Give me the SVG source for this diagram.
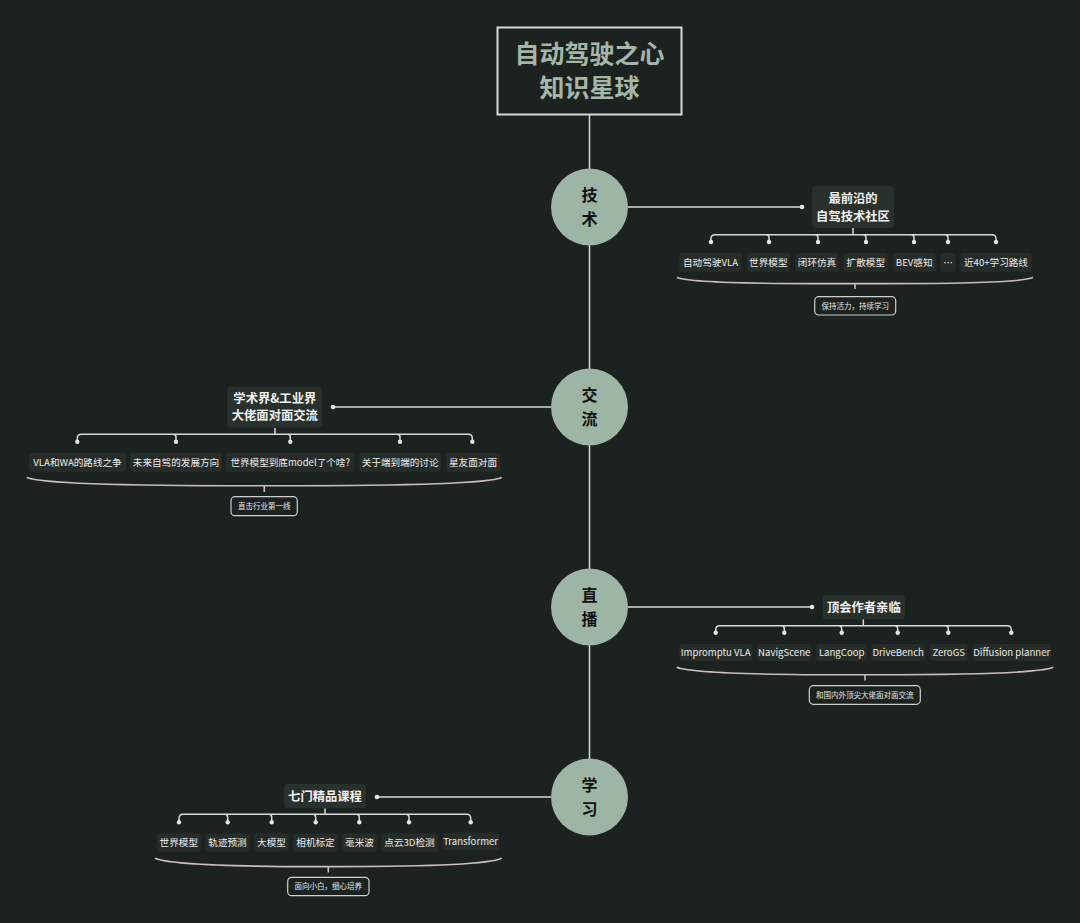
<svg xmlns="http://www.w3.org/2000/svg" width="1080" height="923" viewBox="0 0 1080 923">
<style>
.bg{fill:#1c221f}
.ln{fill:none;stroke:#d9d9d9;stroke-width:1.5}
.br{fill:none;stroke:#c9bdbd;stroke-width:1.6}
.dot{fill:#e6e6e6}
.circ{fill:#9db5a4}
.ct{font-family:"Noto Sans CJK SC",sans-serif;font-size:16px;font-weight:bold;fill:#111;text-anchor:middle}
.nb{fill:#29312c}
.nt{font-family:"Noto Sans CJK SC",sans-serif;font-size:12.3px;font-weight:bold;fill:#f2f2f2;text-anchor:middle}
.cb{fill:#262d29}
.cht{font-family:"Noto Sans CJK SC",sans-serif;font-size:9.6px;fill:#ececec;text-anchor:middle}
.sb{fill:#1c221f;stroke:#cfcfcf;stroke-width:1.2}
.st{font-family:"Noto Sans CJK SC",sans-serif;font-size:7.5px;fill:#e8e8e8;text-anchor:middle}
.tt{font-family:"Noto Sans CJK SC",sans-serif;font-size:25px;font-weight:bold;fill:#a3b6a7;text-anchor:middle}
</style>
<rect class="bg" x="0" y="0" width="1080" height="923"/>

<g id="connectors">
  <line class="ln" x1="589.5" y1="115" x2="589.5" y2="797"/>
  <line class="ln" x1="628" y1="207" x2="802" y2="207"/>
  <line class="ln" x1="551" y1="407" x2="333" y2="407"/>
  <line class="ln" x1="628" y1="607" x2="812" y2="607"/>
  <line class="ln" x1="551" y1="797" x2="377" y2="797"/>
  <circle class="dot" cx="802" cy="207" r="2.3"/>
  <circle class="dot" cx="333" cy="407" r="2.3"/>
  <circle class="dot" cx="812" cy="607" r="2.3"/>
  <circle class="dot" cx="377" cy="797" r="2.3"/>

  <path class="ln" d="M853,228 L853,234.7 M711,242 L711,238.7 Q711,234.7 715,234.7 L992,234.7 Q996,234.7 996,238.7 L996,242 M766,234.7 Q769,234.7 769,237.7 L769,242 M815,234.7 Q818,234.7 818,237.7 L818,242 M863,234.7 Q866,234.7 866,237.7 L866,242 M911,234.7 Q914,234.7 914,237.7 L914,242 M945,234.7 Q948,234.7 948,237.7 L948,242"/>
  <g class="dot"><circle cx="711" cy="242" r="2.2"/><circle cx="769" cy="242" r="2.2"/><circle cx="818" cy="242" r="2.2"/><circle cx="866" cy="242" r="2.2"/><circle cx="914" cy="242" r="2.2"/><circle cx="948" cy="242" r="2.2"/><circle cx="996" cy="242" r="2.2"/></g>
  <path class="br" d="M677,277.5 C690,283 760,284 855,283.5 C950,284 1020,283 1033,277.5 M855,283.5 L855,289"/>

  <path class="ln" d="M275,428 L275,434.3 M77.3,441.7 L77.3,438.3 Q77.3,434.3 81.3,434.3 L468.3,434.3 Q472.3,434.3 472.3,438.3 L472.3,441.7 M173,434.3 Q176,434.3 176,437.3 L176,441.7 M287.3,434.3 Q290.3,434.3 290.3,437.3 L290.3,441.7 M397,434.3 Q400,434.3 400,437.3 L400,441.7"/>
  <g class="dot"><circle cx="77.3" cy="441.7" r="2.2"/><circle cx="176" cy="441.7" r="2.2"/><circle cx="290.3" cy="441.7" r="2.2"/><circle cx="400" cy="441.7" r="2.2"/><circle cx="472.3" cy="441.7" r="2.2"/></g>
  <path class="br" d="M26.7,477.5 C40,483 120,486 264.3,485.8 C410,486 490,483 501.7,477.5 M264.3,485.8 L264.3,492"/>

  <path class="ln" d="M863.3,619.3 L863.3,625.7 M715.7,632.7 L715.7,629.7 Q715.7,625.7 719.7,625.7 L1007.3,625.7 Q1011.3,625.7 1011.3,629.7 L1011.3,632.7 M781.3,625.7 Q784.3,625.7 784.3,628.7 L784.3,632.7 M838.7,625.7 Q841.7,625.7 841.7,628.7 L841.7,632.7 M894.7,625.7 Q897.7,625.7 897.7,628.7 L897.7,632.7 M945.3,625.7 Q948.3,625.7 948.3,628.7 L948.3,632.7"/>
  <g class="dot"><circle cx="715.7" cy="632.7" r="2.2"/><circle cx="784.3" cy="632.7" r="2.2"/><circle cx="841.7" cy="632.7" r="2.2"/><circle cx="897.7" cy="632.7" r="2.2"/><circle cx="948.3" cy="632.7" r="2.2"/><circle cx="1011.3" cy="632.7" r="2.2"/></g>
  <path class="br" d="M676.7,667.3 C690,673 760,675 865,674.8 C970,675 1040,673 1053.3,667.3 M865,674.8 L865,680.5"/>

  <path class="ln" d="M325,808.3 L325,814.3 M179,822.3 L179,818.3 Q179,814.3 183,814.3 L466.7,814.3 Q470.7,814.3 470.7,818.3 L470.7,822.3 M224.7,814.3 Q227.7,814.3 227.7,817.3 L227.7,822.3 M268.7,814.3 Q271.7,814.3 271.7,817.3 L271.7,822.3 M312.7,814.3 Q315.7,814.3 315.7,817.3 L315.7,822.3 M356.3,814.3 Q359.3,814.3 359.3,817.3 L359.3,822.3 M406,814.3 Q409,814.3 409,817.3 L409,822.3"/>
  <g class="dot"><circle cx="179" cy="822.3" r="2.2"/><circle cx="227.7" cy="822.3" r="2.2"/><circle cx="271.7" cy="822.3" r="2.2"/><circle cx="315.7" cy="822.3" r="2.2"/><circle cx="359.3" cy="822.3" r="2.2"/><circle cx="409" cy="822.3" r="2.2"/><circle cx="470.7" cy="822.3" r="2.2"/></g>
  <path class="br" d="M155,858.3 C168,864 230,866.8 328.3,866.6 C430,866.8 490,864 501.7,858.3 M328.3,866.6 L328.3,872.5"/>
</g>

<g id="title">
  <rect x="497.5" y="27.5" width="184" height="87" fill="#1c221f" stroke="#d8d8d8" stroke-width="2"/>
  <text class="tt" x="589.5" y="63">自动驾驶之心</text>
  <text class="tt" x="589.5" y="97">知识星球</text>
</g>

<g id="c-tech"><circle class="circ" cx="589.5" cy="207" r="38.5"/><text class="ct" x="589.5" y="201">技</text><text class="ct" x="589.5" y="225">术</text></g>
<g id="c-comm"><circle class="circ" cx="589.5" cy="407" r="38.5"/><text class="ct" x="589.5" y="401">交</text><text class="ct" x="589.5" y="425">流</text></g>
<g id="c-live"><circle class="circ" cx="589.5" cy="607" r="38.5"/><text class="ct" x="589.5" y="601">直</text><text class="ct" x="589.5" y="625">播</text></g>
<g id="c-learn"><circle class="circ" cx="589.5" cy="797" r="38.5"/><text class="ct" x="589.5" y="791">学</text><text class="ct" x="589.5" y="815">习</text></g>

<g id="n-tech"><rect class="nb" x="812" y="186" width="82" height="42" rx="4"/><text class="nt" x="853" y="203">最前沿的</text><text class="nt" x="853" y="220.5">自驾技术社区</text></g>
<g id="tech-children">
  <g id="t1"><rect class="cb" x="679.3" y="252.7" width="62.4" height="19" rx="3"/><text class="cht" x="710.5" y="265.5">自动驾驶VLA</text></g>
  <g id="t2"><rect class="cb" x="746.7" y="252.7" width="43.3" height="19" rx="3"/><text class="cht" x="768.3" y="265.5">世界模型</text></g>
  <g id="t3"><rect class="cb" x="795.3" y="252.7" width="43.4" height="19" rx="3"/><text class="cht" x="817" y="265.5">闭环仿真</text></g>
  <g id="t4"><rect class="cb" x="844" y="252.7" width="43.7" height="19" rx="3"/><text class="cht" x="865.8" y="265.5">扩散模型</text></g>
  <g id="t5"><rect class="cb" x="892.7" y="252.7" width="43" height="19" rx="3"/><text class="cht" x="914.2" y="265.5">BEV感知</text></g>
  <g id="t6"><rect class="cb" x="940.3" y="252.7" width="15.4" height="19" rx="3"/><text class="cht" x="948" y="265.5">…</text></g>
  <g id="t7"><rect class="cb" x="960.3" y="252.7" width="71.4" height="19" rx="3"/><text class="cht" x="996" y="265.5">近40+学习路线</text></g>
</g>
<g id="s-tech"><rect class="sb" x="814.7" y="296.7" width="81" height="18.3" rx="4"/><text class="st" x="855.2" y="308.6">保持活力，持续学习</text></g>

<g id="n-comm"><rect class="nb" x="227.3" y="386.7" width="95" height="41" rx="4"/><text class="nt" x="274.8" y="402.5">学术界&amp;工业界</text><text class="nt" x="274.8" y="420">大佬面对面交流</text></g>
<g id="comm-children">
  <g id="m1"><rect class="cb" x="29" y="452.7" width="97" height="19" rx="3"/><text class="cht" x="77.5" y="465.5">VLA和WA的路线之争</text></g>
  <g id="m2"><rect class="cb" x="130" y="452.7" width="92" height="19" rx="3"/><text class="cht" x="176" y="465.5">未来自驾的发展方向</text></g>
  <g id="m3"><rect class="cb" x="226" y="452.7" width="128.3" height="19" rx="3"/><text class="cht" x="290.2" y="465.5">世界模型到底model了个啥?</text></g>
  <g id="m4"><rect class="cb" x="359.3" y="452.7" width="81.7" height="19" rx="3"/><text class="cht" x="400.2" y="465.5">关于端到端的讨论</text></g>
  <g id="m5"><rect class="cb" x="446" y="452.7" width="54" height="19" rx="3"/><text class="cht" x="473" y="465.5">星友面对面</text></g>
</g>
<g id="s-comm"><rect class="sb" x="231" y="496.7" width="66.3" height="19" rx="4"/><text class="st" x="264.2" y="508.8">直击行业第一线</text></g>

<g id="n-live"><rect class="nb" x="822.7" y="595" width="82.3" height="24.3" rx="4"/><text class="nt" x="863.8" y="611.5">顶会作者亲临</text></g>
<g id="live-children">
  <g id="l1"><rect class="cb" x="679.3" y="644" width="72.7" height="16.7" rx="3"/><text class="cht" x="715.7" y="655.6">Impromptu VLA</text></g>
  <g id="l2"><rect class="cb" x="756.7" y="644" width="55" height="16.7" rx="3"/><text class="cht" x="784.2" y="655.6">NavigScene</text></g>
  <g id="l3"><rect class="cb" x="816.3" y="644" width="50.7" height="16.7" rx="3"/><text class="cht" x="841.7" y="655.6">LangCoop</text></g>
  <g id="l4"><rect class="cb" x="871.3" y="644" width="53.7" height="16.7" rx="3"/><text class="cht" x="898.2" y="655.6">DriveBench</text></g>
  <g id="l5"><rect class="cb" x="929.7" y="644" width="38" height="16.7" rx="3"/><text class="cht" x="948.7" y="655.6">ZeroGS</text></g>
  <g id="l6"><rect class="cb" x="972.3" y="644" width="78.7" height="16.7" rx="3"/><text class="cht" x="1011.7" y="655.6">Diffusion planner</text></g>
</g>
<g id="s-live"><rect class="sb" x="809.3" y="685.7" width="111" height="18.6" rx="4"/><text class="st" x="864.8" y="697.7">和国内外顶尖大佬面对面交流</text></g>

<g id="n-learn"><rect class="nb" x="284" y="784" width="82" height="24.3" rx="4"/><text class="nt" x="325" y="800.7">七门精品课程</text></g>
<g id="learn-children">
  <g id="k1"><rect class="cb" x="156.7" y="833.3" width="44.3" height="18.4" rx="3"/><text class="cht" x="178.8" y="845.8">世界模型</text></g>
  <g id="k2"><rect class="cb" x="205.3" y="833.3" width="44.4" height="18.4" rx="3"/><text class="cht" x="227.5" y="845.8">轨迹预测</text></g>
  <g id="k3"><rect class="cb" x="254.3" y="833.3" width="34.4" height="18.4" rx="3"/><text class="cht" x="271.5" y="845.8">大模型</text></g>
  <g id="k4"><rect class="cb" x="293.3" y="833.3" width="44.4" height="18.4" rx="3"/><text class="cht" x="315.5" y="845.8">相机标定</text></g>
  <g id="k5"><rect class="cb" x="342" y="833.3" width="35" height="18.4" rx="3"/><text class="cht" x="359.5" y="845.8">毫米波</text></g>
  <g id="k6"><rect class="cb" x="381.3" y="833.3" width="56.4" height="18.4" rx="3"/><text class="cht" x="409.5" y="845.8">点云3D检测</text></g>
  <g id="k7"><rect class="cb" x="442" y="832.7" width="57.3" height="17.3" rx="3"/><text class="cht" x="470.6" y="844.8">Transformer</text></g>
</g>
<g id="s-learn"><rect class="sb" x="287.7" y="877.3" width="81.3" height="18.4" rx="4"/><text class="st" x="328.3" y="889.2">面向小白，细心培养</text></g>
</svg>
